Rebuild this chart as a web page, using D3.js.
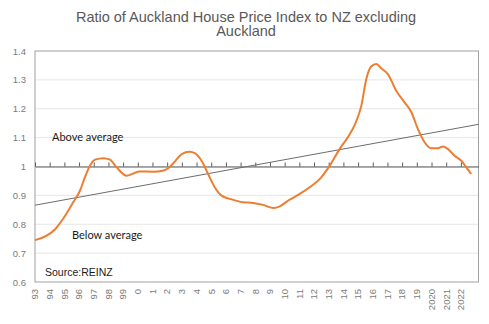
<!DOCTYPE html>
<html>
<head>
<meta charset="utf-8">
<script src="https://cdn.jsdelivr.net/npm/d3@7"></script>
<style>
  body { margin: 0; background: #fff; }
</style>
</head>
<body>
<script>
// ratio series (decimal year, ratio)
const dates = [1993.0, 1993.7, 1994.36, 1994.9, 1995.6, 1996.06, 1996.4, 1996.74, 1997.1, 1997.65,
  1998.1, 1998.56, 1999.24, 1999.7, 2000.1, 2001.05, 2001.7, 2002.07, 2002.52, 2002.98,
  2003.54, 2003.88, 2004.34, 2004.79, 2005.24, 2005.7, 2006.27, 2007.17, 2007.85, 2008.53,
  2009.25, 2009.67, 2010.3, 2011.0, 2011.7, 2012.45, 2013.07, 2013.75, 2014.3, 2014.77,
  2015.22, 2015.56, 2015.9, 2016.24, 2016.58, 2017.03, 2017.6, 2018.17, 2018.63, 2019.07,
  2019.53, 2019.98, 2020.43, 2020.78, 2021.1, 2021.57, 2022.03, 2022.37, 2022.7]
const ratio = [0.745, 0.758, 0.782, 0.818, 0.876, 0.916, 0.963, 1.003, 1.024, 1.029,
  1.024, 0.997, 0.968, 0.976, 0.983, 0.982, 0.985, 0.994, 1.017, 1.043,
  1.051, 1.046, 1.020, 0.974, 0.928, 0.899, 0.888, 0.876, 0.874, 0.867,
  0.856, 0.862, 0.884, 0.904, 0.928, 0.960, 1.003, 1.061, 1.101, 1.144,
  1.210, 1.303, 1.347, 1.355, 1.340, 1.320, 1.262, 1.222, 1.188, 1.130,
  1.084, 1.063, 1.063, 1.069, 1.061, 1.037, 1.020, 0.997, 0.974]

// long-run trend line end points
const trendDates = [1993, 2023.2]
const trendValues = [0.866, 1.146]

const years = d3.range(1993, 2023)
const yTicks = [0.6, 0.7, 0.8, 0.9, 1, 1.1, 1.2, 1.3, 1.4]

const width = 489, height = 324
const marginTop = 51, marginRight = 10.5, marginBottom = 42, marginLeft = 35

const x = d3.scaleLinear([1993, 2023.2], [marginLeft, width - marginRight])
const y = d3.scaleLinear([0.6, 1.4], [height - marginBottom, marginTop])

const grey = "#595959"
const light = "#7a7a7a"

const svg = d3.select("body").append("svg")
  .attr("width", width)
  .attr("height", height)
  .attr("viewBox", [0, 0, width, height])

// title
svg.append("text")
  .attr("x", 246)
  .attr("y", 21.5)
  .attr("text-anchor", "middle")
  .attr("font-family", "Liberation Sans, Arial, sans-serif")
  .attr("font-size", 14.5)
  .attr("fill", grey)
  .call(t => t.append("tspan").attr("x", 246).text("Ratio of Auckland House Price Index to NZ excluding"))
  .call(t => t.append("tspan").attr("x", 246).attr("dy", 14.5).text("Auckland"))

// gridlines
svg.append("g")
  .selectAll("line")
  .data(yTicks.slice(1, -1))
  .join("line")
  .attr("x1", marginLeft)
  .attr("x2", width - marginRight)
  .attr("y1", d => y(d))
  .attr("y2", d => y(d))
  .attr("stroke", "#e6e6e6")

// plot border
svg.append("rect")
  .attr("x", marginLeft)
  .attr("y", marginTop)
  .attr("width", width - marginRight - marginLeft)
  .attr("height", height - marginBottom - marginTop)
  .attr("fill", "none")
  .attr("stroke", "#a0a0a0")

// y axis labels
const yAxis = d3.axisLeft(y).tickValues(yTicks).tickSize(0).tickPadding(9)
  .tickFormat(d => d === 1 ? "1" : d3.format(".1f")(d))
svg.append("g")
  .attr("transform", `translate(${marginLeft},0)`)
  .call(yAxis)
  .call(g => g.select(".domain").remove())
  .call(g => g.selectAll("text")
    .attr("fill", light)
    .attr("font-family", "Liberation Sans, Arial, sans-serif")
    .attr("font-size", 9.5))

// x axis crossing at 1, ticks upward
const xAxis = d3.axisTop(x).tickValues(years).tickSize(4).tickSizeOuter(0).tickFormat("")
svg.append("g")
  .attr("transform", `translate(0,${y(1)})`)
  .call(xAxis)
  .call(g => g.select(".domain").attr("stroke", grey))
  .call(g => g.selectAll(".tick line").attr("stroke", grey))

// year labels at the bottom, rotated
const fmtYear = d => d < 2000 ? String(d - 1900) : d < 2020 ? String(d - 2000) : String(d)
svg.append("g")
  .selectAll("text")
  .data(years)
  .join("text")
  .attr("transform", d => `translate(${x(d)},${height - marginBottom + 7}) rotate(-90)`)
  .attr("dy", "0.35em")
  .attr("text-anchor", "end")
  .attr("font-family", "Liberation Sans, Arial, sans-serif")
  .attr("font-size", 9.5)
  .attr("fill", light)
  .text(fmtYear)

// trend line
svg.append("line")
  .attr("x1", x(trendDates[0]))
  .attr("x2", x(trendDates[1]))
  .attr("y1", y(trendValues[0]))
  .attr("y2", y(trendValues[1]))
  .attr("stroke", "#6d6d6d")
  .attr("stroke-width", 1)

// ratio line
const line = d3.line()
  .x((d, i) => x(dates[i]))
  .y(d => y(d))
  .curve(d3.curveMonotoneX)

svg.append("path")
  .datum(ratio)
  .attr("fill", "none")
  .attr("stroke", "#ED7D31")
  .attr("stroke-width", 2)
  .attr("d", line)

// annotations
const note = (tx, ty, text, family, size) => svg.append("text")
  .attr("x", tx).attr("y", ty)
  .attr("font-family", family)
  .attr("font-size", size)
  .attr("fill", "#1a1a1a")
  .text(text)

note(52, 140.5, "Above average", "Lato, sans-serif", 11)
note(72, 238.5, "Below average", "Lato, sans-serif", 11)
note(45, 276, "Source:REINZ", "Liberation Sans, Arial, sans-serif", 10.5)
</script>
</body>
</html>
